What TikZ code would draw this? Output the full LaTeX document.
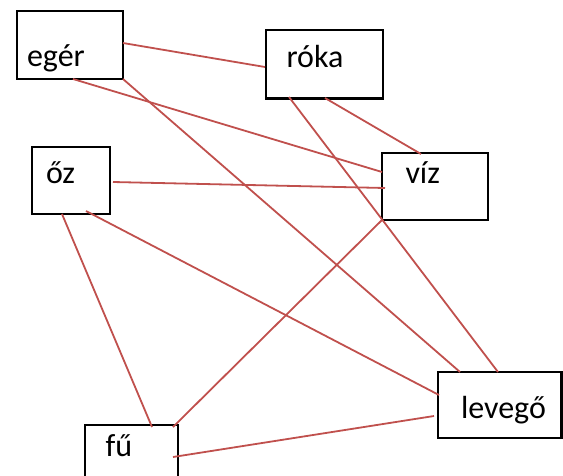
\documentclass[tikz,border=0pt]{standalone}
\usepackage{fontspec}
\setmainfont{Carlito}
\usetikzlibrary{calc}
\definecolor{linkred}{RGB}{192,80,77}
\tikzset{
  box/.style={draw=black, line width=2.5pt, anchor=north west, inner sep=0pt, outer sep=0pt,
              font=\fontsize{32}{32}\selectfont},
  link/.style={draw=linkred, line width=1.8pt},
}
\newcommand{\boxtext}[3]{\makebox[#1][l]{\hspace*{#2}#3}}
\begin{document}
\begin{tikzpicture}[x=1pt,y=-1pt]
\useasboundingbox (0,0) rectangle (563,475);
\node[box, text height=55pt, text depth=13pt]   (eger)   at (17,11)  {\boxtext{106pt}{10pt}{egér}};
\node[box, text height=37pt, text depth=31.5pt] (roka)   at (266,30) {\boxtext{117pt}{20.5pt}{róka}};
\node[box, text height=36pt, text depth=31pt]   (oz)     at (32,147) {\boxtext{78pt}{14pt}{őz}};
\node[box, text height=30pt, text depth=37pt]   (viz)    at (382,153){\boxtext{106pt}{23.5pt}{víz}};
\node[box, text height=46pt, text depth=20pt]   (levego) at (438,372){\boxtext{123.5pt}{23pt}{levegő}};
\node[box, text height=31pt, text depth=34pt]   (fu)     at (85,425) {\boxtext{93pt}{20.5pt}{fű}};

\draw[link] ($(eger.north west)+(106,32)$) -- ($(roka.north west)+(-1,37)$);
\draw[link] ($(eger.north west)+(56,68)$)  -- ($(viz.north west)+(0,19)$);
\draw[link] ($(eger.north west)+(106,68)$) -- ($(levego.north west)+(22,0)$);
\draw[link] ($(roka.north west)+(23,67)$)  -- ($(levego.north west)+(60,0)$);
\draw[link] ($(roka.north west)+(59,68)$)  -- ($(viz.north west)+(39,1)$);
\draw[link] ($(oz.north west)+(81,35)$)    -- ($(viz.north west)+(3,35)$);
\draw[link] ($(oz.north west)+(54,64)$)    -- ($(levego.north west)+(1,23)$);
\draw[link] ($(oz.north west)+(30,67)$)    -- ($(fu.north west)+(67,2)$);
\draw[link] ($(viz.north west)+(0,67)$)    -- ($(fu.north west)+(88,2)$);
\draw[link] ($(levego.north west)+(-4,44)$) -- ($(fu.north west)+(88,32)$);
\end{tikzpicture}
\end{document}
